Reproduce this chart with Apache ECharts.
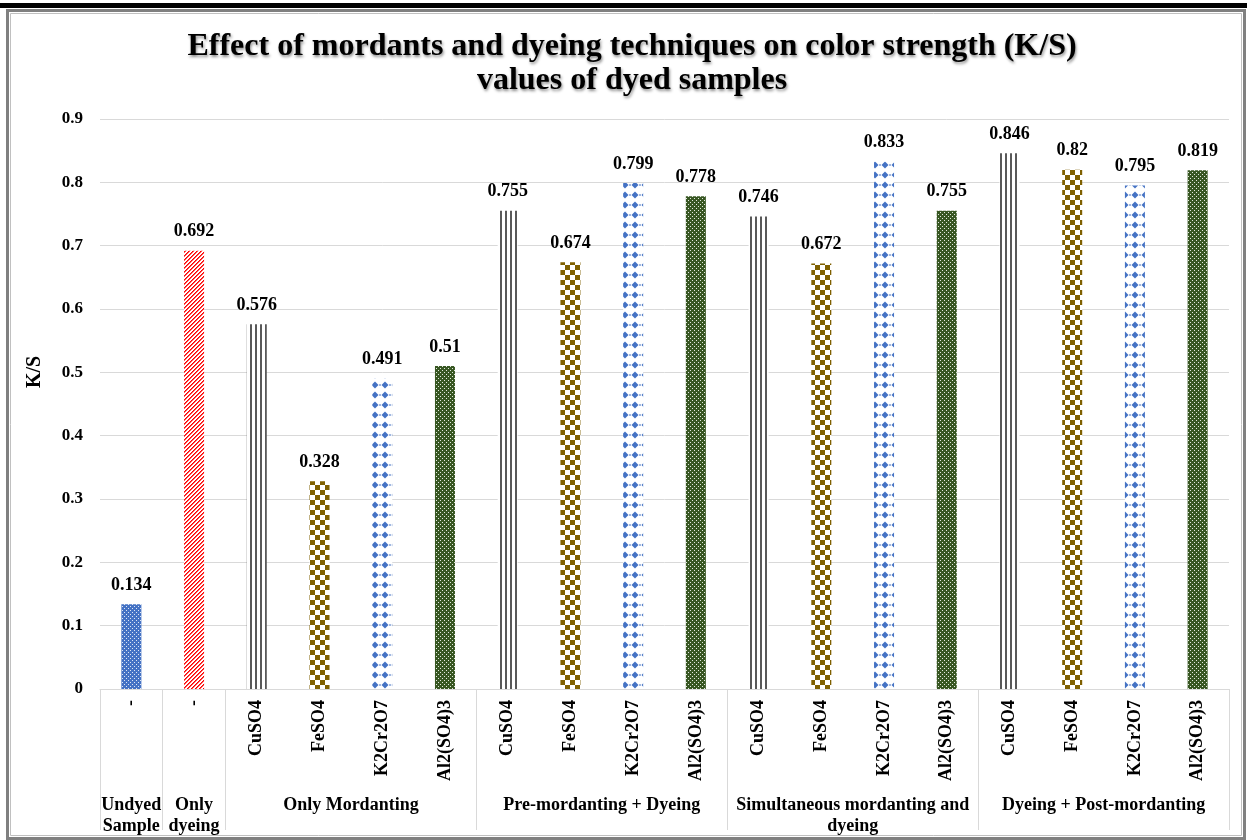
<!DOCTYPE html>
<html>
<head>
<meta charset="utf-8">
<script src="https://cdn.jsdelivr.net/npm/echarts@6/dist/echarts.min.js"></script>
<style>
html,body{margin:0;padding:0;background:#fff;}
#chart{width:1247px;height:840px;}
</style>
</head>
<body>
<div id="chart"></div>
<script>
// ---- data ----
const categories = ['-', '-',
  'CuSO4', 'FeSO4', 'K2Cr2O7', 'Al2(SO4)3',
  'CuSO4', 'FeSO4', 'K2Cr2O7', 'Al2(SO4)3',
  'CuSO4', 'FeSO4', 'K2Cr2O7', 'Al2(SO4)3',
  'CuSO4', 'FeSO4', 'K2Cr2O7', 'Al2(SO4)3'];
const values = [0.134, 0.692,
  0.576, 0.328, 0.491, 0.51,
  0.755, 0.674, 0.799, 0.778,
  0.746, 0.672, 0.833, 0.755,
  0.846, 0.82, 0.795, 0.819];
const fillKinds = ['undyed', 'dyeing',
  'CuSO4', 'FeSO4', 'K2Cr2O7', 'Al2(SO4)3',
  'CuSO4', 'FeSO4', 'K2Cr2O7', 'Al2(SO4)3',
  'CuSO4', 'FeSO4', 'K2Cr2O7', 'Al2(SO4)3',
  'CuSO4', 'FeSO4', 'K2Cr2O7', 'Al2(SO4)3'];
const groupNames = ['Undyed\nSample', 'Only\ndyeing', 'Only Mordanting',
  'Pre-mordanting + Dyeing', 'Simultaneous mordanting and\ndyeing', 'Dyeing + Post-mordanting'];
const groupSizes = [1, 1, 4, 4, 4, 4];
const yTicks = [0, 0.9, 0.1]; // min, max, interval
const titleText = 'Effect of mordants and dyeing techniques on color strength (K/S)\nvalues of dyed samples';
const yName = 'K/S';

// ---- patterns ----
function tile(w, h, draw) {
  const c = document.createElement('canvas');
  c.width = w; c.height = h;
  const ctx = c.getContext('2d');
  draw(ctx);
  return { image: c, repeat: 'repeat' };
}
const patterns = {
  undyed: tile(4, 4, ctx => {
    ctx.fillStyle = '#4472C4'; ctx.fillRect(0, 0, 4, 4);
    ctx.fillStyle = '#dde6f5'; ctx.fillRect(0, 0, 1, 1); ctx.fillRect(2, 2, 1, 1);
  }),
  dyeing: tile(4, 4, ctx => {
    ctx.fillStyle = '#ffffff'; ctx.fillRect(0, 0, 4, 4);
    for (let i = 0; i < 4; i++) {
      ctx.fillStyle = '#ff0000'; ctx.fillRect(i, 3 - i, 1, 1);
      ctx.fillStyle = '#ff5050'; ctx.fillRect((i + 1) % 4, 3 - i, 1, 1);
    }
  }),
  'CuSO4': tile(5, 1, ctx => {
    ctx.fillStyle = '#ffffff'; ctx.fillRect(0, 0, 5, 1);
    ctx.fillStyle = '#595959'; ctx.fillRect(0, 0, 2, 1);
  }),
  'FeSO4': tile(10, 10, ctx => {
    ctx.fillStyle = '#ffffff'; ctx.fillRect(0, 0, 10, 10);
    ctx.fillStyle = '#7F6000'; ctx.fillRect(0, 0, 5, 5); ctx.fillRect(5, 5, 5, 5);
  }),
  'K2Cr2O7': tile(10, 10, ctx => {
    ctx.fillStyle = '#ffffff'; ctx.fillRect(0, 0, 10, 10);
    ctx.fillStyle = '#4472C4';
    ctx.beginPath();
    ctx.moveTo(5, 1.5); ctx.lineTo(8.5, 5); ctx.lineTo(5, 8.5); ctx.lineTo(1.5, 5); ctx.closePath();
    ctx.fill();
    ctx.fillRect(0, 4.5, 1, 1); ctx.fillRect(9, 4.5, 1, 1);
  }),
  'Al2(SO4)3': tile(4, 4, ctx => {
    ctx.fillStyle = '#385723'; ctx.fillRect(0, 0, 4, 4);
    ctx.fillStyle = '#e4eadf'; ctx.fillRect(0, 0, 1, 1); ctx.fillRect(2, 2, 1, 1);
  })
};

// ---- group axis helpers ----
const groupTicks = [0];
const groupCenters = [];
groupSizes.forEach(s => {
  const start = groupTicks[groupTicks.length - 1];
  groupCenters.push(start + s / 2);
  groupTicks.push(start + s);
});
const total = groupTicks[groupTicks.length - 1];

const serif = "'Liberation Serif', 'Times New Roman', serif";
const chart = echarts.init(document.getElementById('chart'), null, { renderer: 'canvas' });
chart.setOption({
  backgroundColor: '#ffffff',
  animation: false,
  title: {
    text: titleText,
    left: 627, top: 25, textAlign: 'center',
    textStyle: {
      fontFamily: serif, fontWeight: 'bold', fontSize: 32, lineHeight: 34, color: '#000',
      textShadowColor: 'rgba(0,0,0,0.45)', textShadowBlur: 3, textShadowOffsetX: 1, textShadowOffsetY: 2
    }
  },
  graphic: [
    { type: 'rect', shape: { x: 0, y: 3, width: 1247, height: 5 }, style: { fill: '#000' }, silent: true },
    { type: 'rect', shape: { x: 7.5, y: 10.5, width: 1237, height: 828 }, style: { fill: 'none', stroke: '#808080', lineWidth: 3 }, silent: true },
    { type: 'rect', shape: { x: 10.5, y: 13.5, width: 1231, height: 822 }, style: { fill: 'none', stroke: '#c0c0c0', lineWidth: 1 }, silent: true }
  ],
  grid: { left: 100, right: 18, top: 119, bottom: 151, containLabel: false },
  xAxis: [
    {
      type: 'category', data: categories, position: 'bottom',
      axisLine: { show: true, lineStyle: { color: '#d9d9d9', width: 1 } },
      axisTick: { show: false },
      axisLabel: { rotate: 90, margin: 11, fontFamily: serif, fontWeight: 'bold', fontSize: 18, color: '#000', interval: 0 },
      splitLine: { show: false }
    },
    {
      type: 'value', min: 0, max: total, position: 'bottom',
      axisLine: { show: false },
      splitLine: { show: false },
      axisTick: { show: true, customValues: groupTicks, length: 141, lineStyle: { color: '#d9d9d9', width: 1 } },
      axisLabel: {
        show: true, customValues: groupCenters, margin: 106, lineHeight: 21,
        fontFamily: serif, fontWeight: 'bold', fontSize: 18, color: '#000',
        formatter: v => { const i = groupCenters.indexOf(v); return i >= 0 ? groupNames[i] : ''; }
      }
    }
  ],
  yAxis: {
    type: 'value', min: yTicks[0], max: yTicks[1], interval: yTicks[2],
    name: yName, nameLocation: 'middle', nameGap: 55, nameRotate: 90,
    nameTextStyle: { fontFamily: serif, fontWeight: 'bold', fontSize: 20, color: '#000', padding: [0, 0, 0, 64] },
    axisLine: { show: false }, axisTick: { show: false },
    axisLabel: { margin: 17, fontFamily: serif, fontWeight: 'bold', fontSize: 17, color: '#000',
      formatter: v => String(+v.toFixed(1)) },
    splitLine: { show: true, lineStyle: { color: '#d9d9d9', width: 1 } }
  },
  series: [{
    type: 'bar', xAxisIndex: 0, yAxisIndex: 0, barWidth: 20,
    data: values.map((v, i) => ({ value: v, itemStyle: { color: patterns[fillKinds[i]] } })),
    label: { show: true, position: 'top', distance: 10, fontFamily: serif, fontWeight: 'bold', fontSize: 18, color: '#000' }
  }]
});
</script>
</body>
</html>
